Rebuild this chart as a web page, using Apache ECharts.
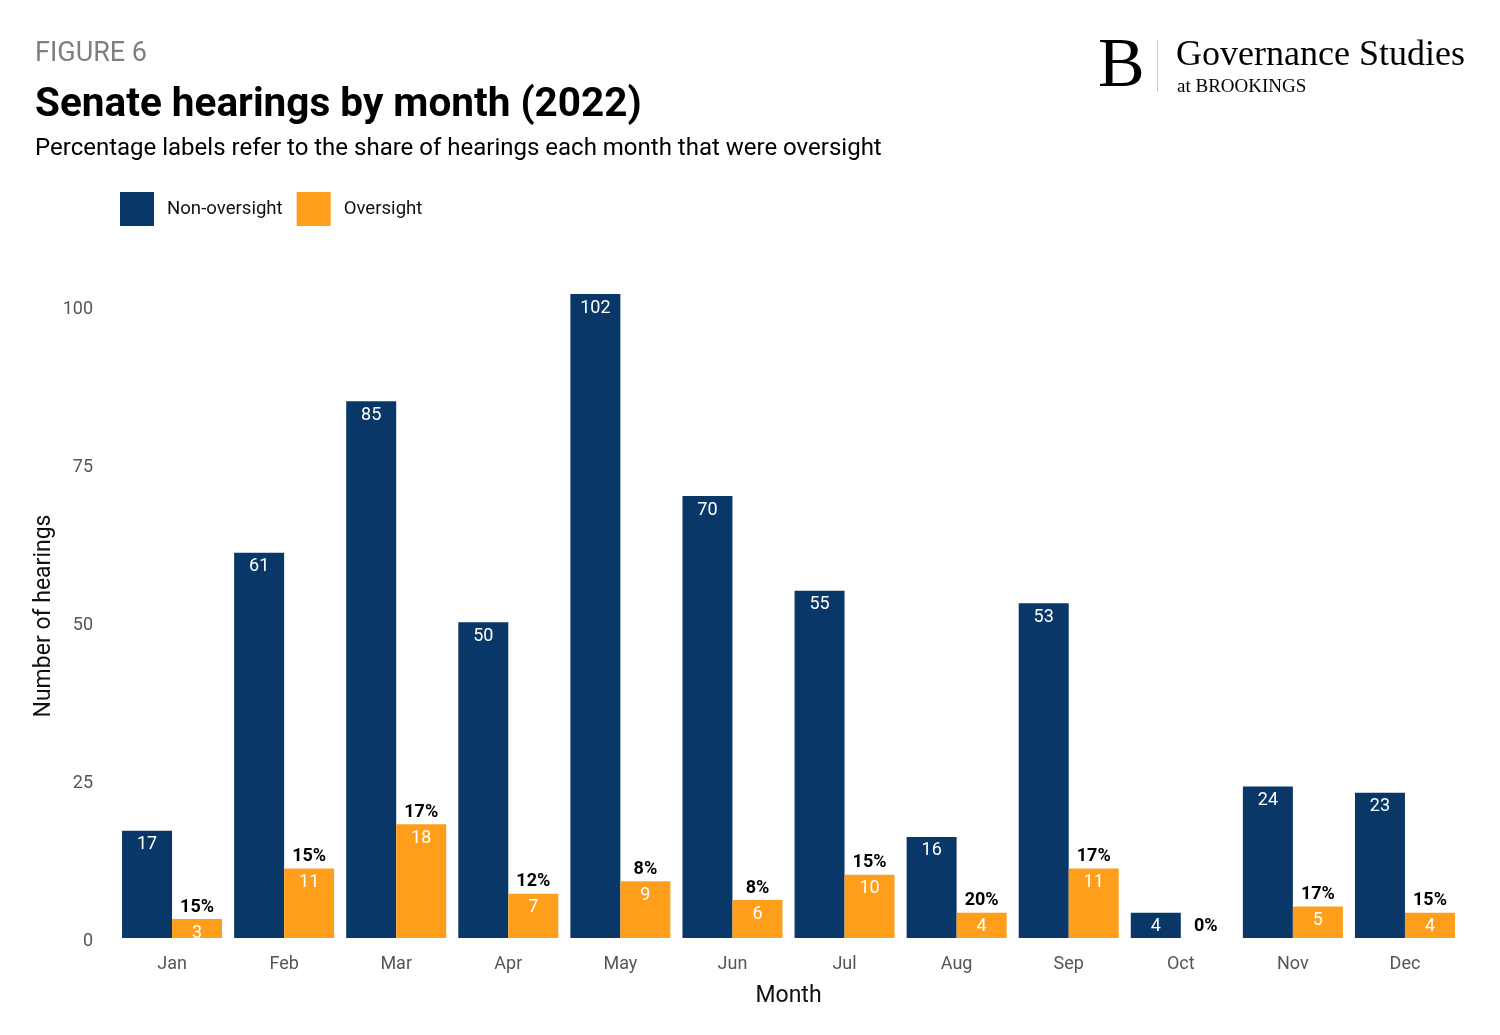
<!DOCTYPE html>
<html>
<head>
<meta charset="utf-8">
<script src="https://cdn.jsdelivr.net/npm/echarts@6/dist/echarts.min.js"></script>
<style>
html,body{margin:0;padding:0;background:#fff;}
#chart{width:1500px;height:1035px;}
</style>
</head>
<body>
<div id="chart"></div>
<script>
const months = ['Jan','Feb','Mar','Apr','May','Jun','Jul','Aug','Sep','Oct','Nov','Dec'];
const nonOversight = [17,61,85,50,102,70,55,16,53,4,24,23];
const oversight = [3,11,18,7,9,6,10,4,11,0,5,4];
const pctLabels = ['15%','15%','17%','12%','8%','8%','15%','20%','17%','0%','17%','15%'];
const yTicks = [0,25,50,75,100];

const NAVY = '#083768';
const ORANGE = '#FF9E1B';
const FONT = 'Roboto';

const chart = echarts.init(document.getElementById('chart'));
chart.setOption({
  backgroundColor: '#ffffff',
  textStyle: {fontFamily: FONT},
  animation: false,
  graphic: [
    {type:'text', left:35, top:41, style:{text:'FIGURE 6', font:'400 27px Roboto', fill:'#7f7f7f'}},
    {type:'text', left:35, top:85, style:{text:'Senate hearings by month (2022)', font:'700 40.5px Roboto', fill:'#000'}},
    {type:'text', left:35, top:137, style:{text:'Percentage labels refer to the share of hearings each month that were oversight', font:'400 24px Roboto', fill:'#000'}},
    {type:'text', left:1098, top:33, style:{text:'B', font:'400 70px "Liberation Serif"', fill:'#000'}},
    {type:'rect', left:1157, top:40, shape:{width:1, height:52}, style:{fill:'#c8c8c8'}},
    {type:'text', left:1176, top:38, style:{text:'Governance Studies', font:'400 36px "Liberation Serif"', fill:'#000'}},
    {type:'text', left:1177, top:78, style:{text:'at BROOKINGS', font:'400 19px "Liberation Serif"', fill:'#000'}}
  ],
  legend: {
    left: 115, top: 187,
    itemWidth: 34, itemHeight: 34, itemGap: 14,
    icon: 'rect',
    textStyle: {fontSize: 18.6, color: '#111', fontFamily: FONT, padding:[0,0,0,8]},
    data: ['Non-oversight','Oversight']
  },
  grid: {left: 116, right: 39, top: 294, bottom: 97, containLabel: false},
  xAxis: {
    type: 'category',
    data: months,
    axisLine: {show:false}, axisTick: {show:false},
    axisLabel: {fontSize: 18, color: '#555', margin: 17, fontFamily: FONT},
    name: 'Month', nameLocation: 'middle', nameGap: 47,
    nameTextStyle: {fontSize: 23, color: '#111', fontFamily: FONT}
  },
  yAxis: {
    type: 'value', min: 0, max: 102, interval: 25,
    splitLine: {show:false}, axisLine:{show:false}, axisTick:{show:false},
    axisLabel: {margin: 23,
      formatter: v => yTicks.indexOf(v) >= 0 ? '{t|' + v + '}' : '',
      rich: {t: {fontSize: 18, color: '#555', fontFamily: FONT, padding: [6,0,0,0]}}},
    name: 'Number of hearings', nameLocation: 'middle', nameGap: 60, nameRotate: 90,
    nameMoveOverlap: false,
    nameTextStyle: {fontSize: 23, color: '#111', fontFamily: FONT}
  },
  series: [
    {
      name: 'Non-oversight', type: 'bar', data: nonOversight,
      barWidth: 50, barGap: '0%',
      itemStyle: {color: NAVY},
      label: {show: true, position: 'insideTop', distance: 5, color: '#fff', fontSize: 18, fontFamily: FONT}
    },
    {
      name: 'Oversight', type: 'bar', data: oversight,
      barWidth: 50,
      itemStyle: {color: ORANGE},
      label: {
        show: true, position: 'top', distance: 0, offset: [0, 28],
        formatter: p => '{p|' + pctLabels[p.dataIndex] + '}\n{v|' + (p.value > 0 ? p.value : ' ') + '}',
        rich: {
          p: {fontSize: 18, fontWeight: 'bold', color: '#000', lineHeight: 24, fontFamily: FONT},
          v: {fontSize: 18, color: '#fff', lineHeight: 28, fontFamily: FONT}
        }
      }
    }
  ]
});
</script>
</body>
</html>
